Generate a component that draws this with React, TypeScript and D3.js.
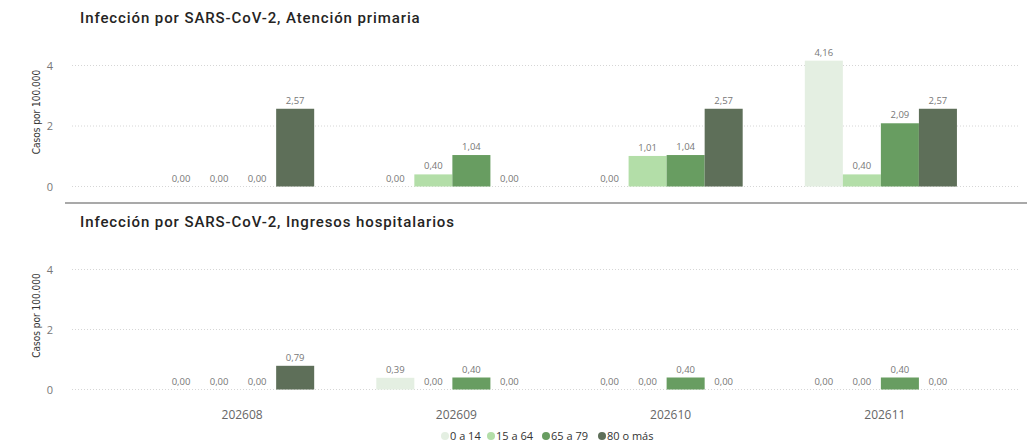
import React from "react";
import * as d3 from "d3";

const periods = ["202608", "202609", "202610", "202611"];
const ageGroups = ["0 a 14", "15 a 64", "65 a 79", "80 o más"];
const colors = ["#E4EFE2", "#B3DEA8", "#689D61", "#5E6F59"];

// Atención primaria: values per age group, by period
const primaria014 = [0, 0, 0, 4.16];
const primaria1564 = [0, 0.4, 1.01, 0.4];
const primaria6579 = [0, 1.04, 1.04, 2.09];
const primaria80 = [2.57, 0, 2.57, 2.57];

// Ingresos hospitalarios
const hosp014 = [0, 0.39, 0, 0];
const hosp1564 = [0, 0, 0, 0];
const hosp6579 = [0, 0.4, 0.4, 0.4];
const hosp80 = [0.79, 0, 0, 0];

const yTicks = [0, 2, 4];

const panels = [
  { title: "Infección por SARS-CoV-2, Atención primaria", series: [primaria014, primaria1564, primaria6579, primaria80], top: 65.5, bottom: 186.5, titleY: 23 },
  { title: "Infección por SARS-CoV-2, Ingresos hospitalarios", series: [hosp014, hosp1564, hosp6579, hosp80], top: 269.5, bottom: 389.5, titleY: 227 },
];

const loc = d3.formatLocale({ decimal: ",", thousands: ".", grouping: [3], currency: ["", "€"] });
const fmt = loc.format(".2f");

const W = 1027, H = 448;

export default function App() {
  const x0 = d3.scaleBand<string>().domain(periods).range([131, 988]).paddingInner(0.29).paddingOuter(0.145);
  const x1 = d3.scaleBand<string>().domain(ageGroups).range([0, x0.bandwidth()]);
  const labelFont = "'Open Sans', 'Noto Sans', sans-serif";

  const legendXs = [445, 491, 546, 602];

  return (
    <svg width={W} height={H} style={{ position: "absolute", left: 0, top: 0, background: "#fff" }}>
      {panels.map((p, pi) => {
        const y = d3.scaleLinear().domain([0, 4]).range([p.bottom, p.top]);
        return (
          <g key={pi}>
            <text x={80} y={p.titleY} fontFamily="Roboto, sans-serif" fontWeight={500} fontSize={15} fill="#252423" letterSpacing={0.9}>
              {p.title}
            </text>
            {yTicks.map((t) => (
              <g key={t}>
                <line x1={72} x2={1020} y1={y(t)} y2={y(t)} stroke="#d6d6d6" strokeDasharray="1,2" />
                <text x={53} y={y(t) + 4} textAnchor="end" fontFamily={labelFont} fontSize={11} fill="#777">
                  {t}
                </text>
              </g>
            ))}
            <text
              transform={`translate(40,${(p.top + p.bottom) / 2 - 14}) rotate(-90)`}
              textAnchor="middle"
              fontFamily="'DejaVu Sans Condensed', 'Liberation Sans Narrow', sans-serif"
              fontSize={10}
              fill="#333"
              style={{ fontStretch: "condensed" }}
            >
              Casos por 100.000
            </text>
            {periods.map((per, i) => (
              <g key={per} transform={`translate(${x0(per)},0)`}>
                {ageGroups.map((ag, k) => {
                  const v = p.series[k][i];
                  const bx = x1(ag)!;
                  return (
                    <g key={ag}>
                      {v > 0 && (
                        <rect x={bx} y={y(v)} width={x1.bandwidth()} height={y(0) - y(v)} fill={colors[k]} />
                      )}
                      <text x={bx + x1.bandwidth() / 2} y={y(v) - 5} textAnchor="middle" fontFamily={labelFont} fontSize={9.5} fill="#777">
                        {fmt(v)}
                      </text>
                    </g>
                  );
                })}
              </g>
            ))}
          </g>
        );
      })}
      <line x1={65} x2={1027} y1={203} y2={203} stroke="#555" strokeWidth={1.2} />
      {periods.map((per) => (
        <text key={per} x={x0(per)! + x0.bandwidth() / 2 + 4} y={419} textAnchor="middle" fontFamily={labelFont} fontSize={12} fill="#666">
          {per}
        </text>
      ))}
      {ageGroups.map((ag, k) => (
        <g key={ag}>
          <circle cx={legendXs[k]} cy={436} r={4} fill={colors[k]} />
          <text x={legendXs[k] + 5} y={440} fontFamily={labelFont} fontSize={11} fill="#333">
            {ag}
          </text>
        </g>
      ))}
    </svg>
  );
}
